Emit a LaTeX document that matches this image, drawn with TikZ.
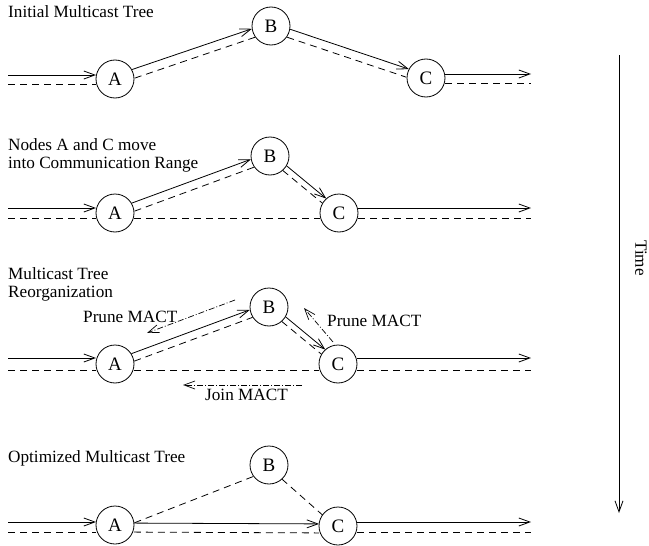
\documentclass[tikz,border=0pt]{standalone}
\usepackage{fontspec}
\setmainfont{Liberation Serif}
\usetikzlibrary{arrows.meta,calc}

% a straight lane between two points, shifted sideways by a signed offset
% (positive = left of the travel direction), trimmed at both ends
\newcommand\lane[6]{%
  \draw[#1,shorten <=#5,shorten >=#6]
    ($(#2)!#4!90:(#3)$) -- ($(#3)!#4!-90:(#2)$);}

\begin{document}
\begin{tikzpicture}[x=1pt,y=-1pt,
  site/.style={circle,draw,line width=0.8pt,minimum size=38pt,inner sep=0pt,
    font=\fontsize{19}{19}\selectfont},
  caption/.style={anchor=base west,inner sep=0pt,font=\fontsize{17.2}{18}\selectfont},
  data/.style={line width=0.8pt,-{Straight Barb[length=11pt,width=8pt]}},
  route/.style={line width=0.8pt,dash pattern=on 7pt off 5pt},
  ctrl/.style={line width=0.7pt,dash pattern=on 6pt off 2pt on 1pt off 2pt,
    -{Straight Barb[length=11pt,width=8pt]}},
]
\useasboundingbox (0,0) rectangle (649,546);

% ---------- stage 1 ----------
\node[caption] (t1) at (8,17) {Initial Multicast Tree};
\node[site] (A1) at (115,79) {A};
\node[site] (B1) at (271,26) {B};
\node[site] (C1) at (426,78) {C};
\coordinate (in1) at (8,79);
\coordinate (out1) at (531,78);
\lane{data}{in1}{A1}{4pt}{0pt}{19pt}
\lane{route}{in1}{A1}{-5pt}{0pt}{19pt}
\lane{data}{A1}{B1}{3.5pt}{19pt}{19pt}
\lane{route}{A1}{B1}{-5.5pt}{19pt}{19pt}
\lane{data}{B1}{C1}{3pt}{19pt}{19pt}
\lane{route}{B1}{C1}{-5.5pt}{19pt}{19pt}
\lane{data}{C1}{out1}{4pt}{19pt}{0pt}
\lane{route}{C1}{out1}{-5pt}{19pt}{0pt}

% ---------- stage 2 ----------
\node[caption] (t2a) at (8,150) {Nodes A and C move};
\node[caption] (t2b) at (8,168) {into Communication Range};
\node[site] (A2) at (115,213) {A};
\node[site] (B2) at (270,156) {B};
\node[site] (C2) at (339,213) {C};
\coordinate (in2) at (8,213);
\coordinate (out2) at (531,213);
\lane{data}{in2}{A2}{5pt}{0pt}{19pt}
\lane{route}{in2}{A2}{-5pt}{0pt}{19pt}
\lane{data}{A2}{B2}{3.5pt}{19pt}{19pt}
\lane{route}{A2}{B2}{-5pt}{19pt}{19pt}
\lane{data}{B2}{C2}{3pt}{19pt}{19pt}
\lane{route}{B2}{C2}{-3pt}{19pt}{19pt}
\lane{route}{A2}{C2}{-5pt}{19pt}{19pt}
\lane{data}{C2}{out2}{5pt}{19pt}{0pt}
\lane{route}{C2}{out2}{-5pt}{19pt}{0pt}

% ---------- stage 3 ----------
\node[caption] (t3a) at (8,279) {Multicast Tree};
\node[caption] (t3b) at (8,297) {Reorganization};
\node[site] (A3) at (115,364) {A};
\node[site] (B3) at (269,307) {B};
\node[site] (C3) at (338,364) {C};
\coordinate (in3) at (8,364);
\coordinate (out3) at (531,364);
\lane{data}{in3}{A3}{6pt}{0pt}{19pt}
\lane{route}{in3}{A3}{-6pt}{0pt}{19pt}
\lane{data}{A3}{B3}{4pt}{19pt}{19pt}
\lane{route}{A3}{B3}{-4pt}{19pt}{19pt}
\lane{data}{B3}{C3}{3pt}{19pt}{19pt}
\lane{route}{B3}{C3}{-3pt}{19pt}{19pt}
\lane{route}{A3}{C3}{-6pt}{19pt}{19pt}
\lane{data}{C3}{out3}{6pt}{19pt}{0pt}
\lane{route}{C3}{out3}{-6pt}{19pt}{0pt}
% control messages
\coordinate (p1s) at (235,300);
\coordinate (p1e) at (147,333);
\coordinate (p2s) at (333,342);
\coordinate (p2e) at (304,308);
\coordinate (js) at (302,385);
\coordinate (je) at (183,385);
\draw[ctrl] (p1s) -- (p1e);
\draw[ctrl] (p2s) -- (p2e);
\draw[ctrl] (js) -- (je);
\node[caption] (m1) at (83,322) {Prune MACT};
\node[caption] (m2) at (327,326) {Prune MACT};
\node[caption] (m3) at (205,400) {Join MACT};

% ---------- stage 4 ----------
\node[caption] (t4) at (8,462) {Optimized Multicast Tree};
\node[site] (A4) at (115,525) {A};
\node[site] (B4) at (269,465) {B};
\node[site] (C4) at (338,526) {C};
\coordinate (in4) at (8,525);
\coordinate (out4) at (531,526);
\lane{data}{in4}{A4}{3pt}{0pt}{19pt}
\lane{route}{in4}{A4}{-7pt}{0pt}{19pt}
\lane{route}{A4}{B4}{-5pt}{19pt}{19pt}
\lane{route}{B4}{C4}{-2pt}{19pt}{19pt}
\lane{data}{A4}{C4}{2pt}{19pt}{19pt}
\lane{route}{A4}{C4}{-7pt}{19pt}{19pt}
\lane{data}{C4}{out4}{4pt}{19pt}{0pt}
\lane{route}{C4}{out4}{-6pt}{19pt}{0pt}

% ---------- time axis ----------
\coordinate (ts) at (619,55);
\coordinate (te) at (619,513);
\draw[data] (ts) -- (te);
\node[rotate=-90,inner sep=0pt,font=\fontsize{17.2}{18}\selectfont] (time) at (641,258) {Time};
\end{tikzpicture}
\end{document}
